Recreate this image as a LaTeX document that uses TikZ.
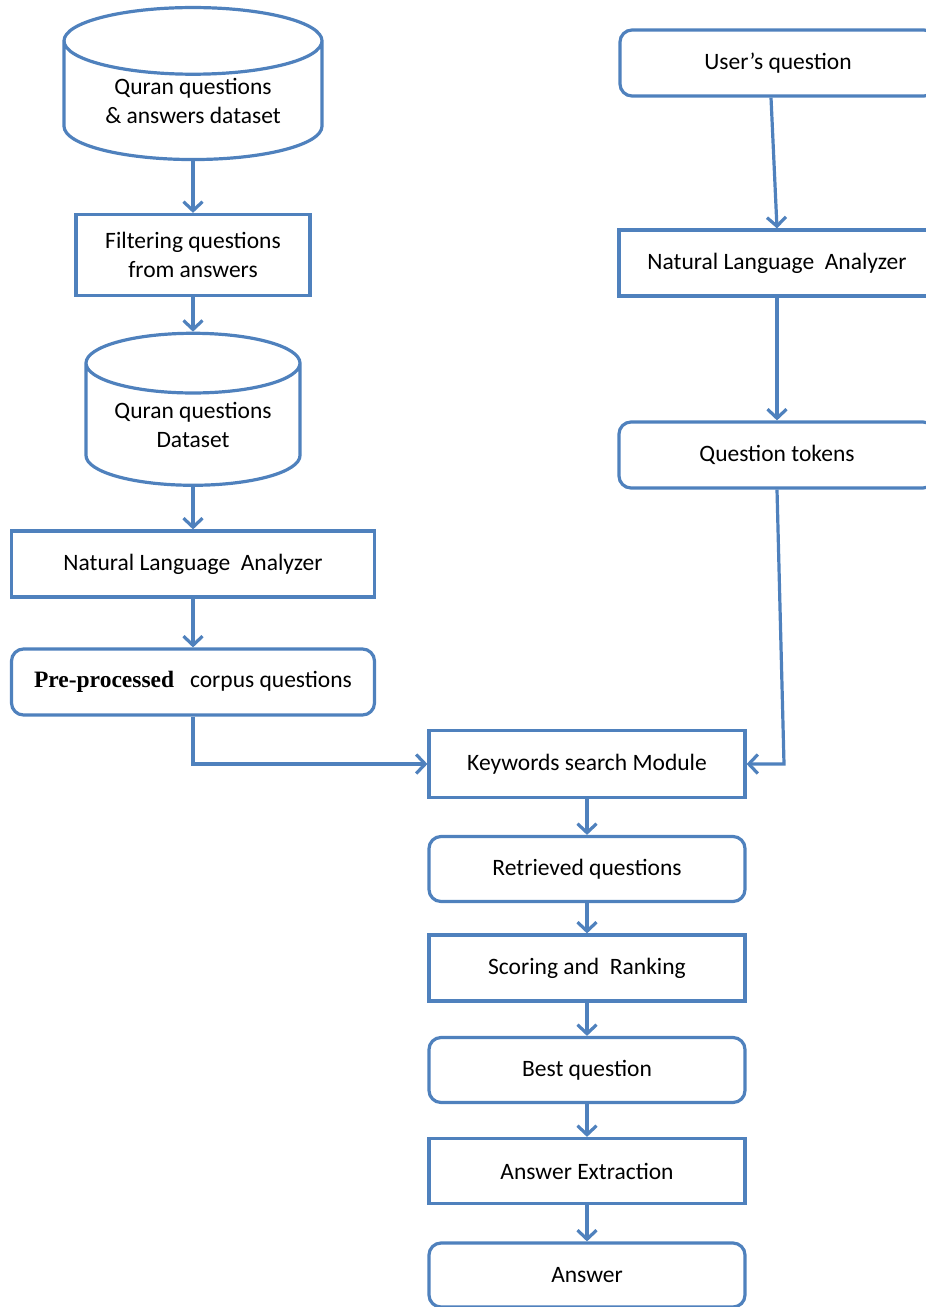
\documentclass[tikz,border=0pt]{standalone}
\usepackage{fontspec}
\setmainfont{Carlito}
\newfontfamily\cambfont{Liberation Serif}
\usetikzlibrary{shapes.geometric,arrows.meta}
\definecolor{lineblue}{RGB}{79,129,189}

\begin{document}
\begin{tikzpicture}
  [x=1pt,y=-1pt,
   every node/.style={draw=lineblue,line width=3.2pt,fill=white,text=black,
     font=\fontsize{23.5}{29}\selectfont,align=center,inner sep=0pt},
   box/.style={rectangle,minimum width=316pt,minimum height=66pt},
   rbox/.style={box,rounded corners=12pt},
   db/.style={cylinder,shape border rotate=90,aspect=0.38},
   arr/.style={draw=lineblue,line width=3.2pt,
     -{Straight Barb[length=9pt,width=19pt,line width=3.2pt]}}]
  \useasboundingbox (0,0) rectangle (926,1307);

  % left column
  \node[db,minimum width=258pt,minimum height=152pt] (qa) at (193,101) {Quran questions\\\& answers dataset};
  \node[box,minimum width=234pt,minimum height=81pt] (filt) at (193,255) {Filtering questions\\from answers};
  \node[db,minimum width=214pt,minimum height=152pt] (qd) at (193,425) {Quran questions\\Dataset};
  \node[box,minimum width=363pt] (nlaL) at (193,564) {Natural Language~~Analyzer};
  \node[rbox,minimum width=363pt] (pre) at (193,682) {{\cambfont\bfseries Pre-processed}~~ corpus questions};

  % right column
  \node[rbox] (uq) at (778,63) {User's question};
  \node[box] (nlaR) at (777,263) {Natural Language~~Analyzer};
  \node[rbox] (qt) at (777,455) {Question tokens};

  % bottom column
  \node[box,minimum height=67pt] (kw) at (587,764) {Keywords search Module};
  \node[rbox,minimum height=65pt] (ret) at (587,869) {Retrieved questions};
  \node[box] (score) at (587,968) {Scoring and~~Ranking};
  \node[rbox,minimum height=65pt] (best) at (587,1070) {Best question};
  \node[box,minimum height=65pt] (ext) at (587,1171) {Answer Extraction};
  \node[rbox,minimum height=64pt] (ans) at (587,1275) {Answer};

  \foreach \from/\to in {qa/filt,filt/qd,qd/nlaL,nlaL/pre,nlaR/qt,kw/ret,ret/score,score/best,best/ext,ext/ans}
    \draw[arr] (\from) -- (\to);
  \draw[arr] ([xshift=-7pt]uq.south) -- (nlaR.north);
  \draw[arr] (pre.south) |- (kw.west);
  \draw[arr] (qt.south) -- ([xshift=7pt]qt.south |- kw.east) -- (kw.east);
\end{tikzpicture}
\end{document}
